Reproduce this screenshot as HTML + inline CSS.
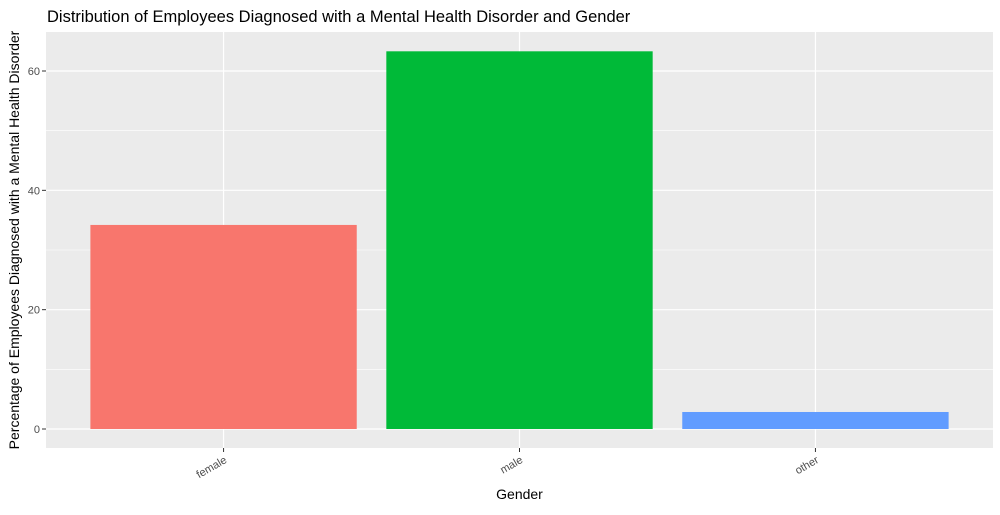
<!DOCTYPE html>
<html><head><meta charset="utf-8"><style>body{margin:0;background:#fff}svg{font-family:"Liberation Sans",sans-serif}</style></head><body>
<svg width="1000" height="510">
<g id="g"></g>
</svg>
<script>
const categories=["female","male","other"];
const values=[34.2,63.3,2.85];
const colors=["#F8766D","#00BA38","#619CFF"];
const yTicks=[0,20,40,60];
const L=46,R=993,T=32,B=448;
const y0=429,yPer=(429-71)/60;
const y=v=>y0-v*yPer;
const band=(R-L)/(categories.length+0.2);
const x=i=>L+band*(i+0.6);
const NS="http://www.w3.org/2000/svg";
const g=document.getElementById('g');
function el(t,a,txt){const e=document.createElementNS(NS,t);for(const k in a)e.setAttribute(k,a[k]);if(txt!=null)e.textContent=txt;g.appendChild(e);return e;}
const bg=el('rect',{x:L,y:T,width:R-L,height:B-T,fill:'#EBEBEB'});


for(let i=0;i<yTicks.length-1;i++){const m=(yTicks[i]+yTicks[i+1])/2;el('line',{x1:L,x2:R,y1:y(m),y2:y(m),stroke:'#fff','stroke-width':0.6});}
const m2=yTicks[yTicks.length-1]+10;if(y(m2)>T)el('line',{x1:L,x2:R,y1:y(m2),y2:y(m2),stroke:'#fff','stroke-width':0.6});
yTicks.forEach(t=>{el('line',{x1:L,x2:R,y1:y(t),y2:y(t),stroke:'#fff','stroke-width':1.2});
el('line',{x1:L-4,x2:L,y1:y(t),y2:y(t),stroke:'#333','stroke-width':1});
const tl=el('text',{x:L-6,y:y(t)+4,'text-anchor':'end','font-size':11,fill:'#4D4D4D'},t);

});
categories.forEach((c,i)=>{el('line',{x1:x(i),x2:x(i),y1:T,y2:B,stroke:'#fff','stroke-width':1.2});});
categories.forEach((c,i)=>{const w=band*0.9;
const b=el('rect',{x:x(i)-w/2,y:y(values[i]),width:w,height:y(0)-y(values[i]),fill:colors[i]});


el('line',{x1:x(i),x2:x(i),y1:B,y2:B+4,stroke:'#333','stroke-width':1});
const tl=el('text',{x:x(i)+4,y:B+14,'text-anchor':'end','font-size':11,fill:'#4D4D4D',transform:`rotate(-30 ${x(i)+4} ${B+14})`},c);

});
const t=el('text',{x:47,y:22,'font-size':16.5,fill:'#000'},"Distribution of Employees Diagnosed with a Mental Health Disorder and Gender");


const xt=el('text',{x:(L+R)/2,y:499,'text-anchor':'middle','font-size':14,fill:'#000'},"Gender");


const yt=el('text',{x:0,y:0,'text-anchor':'middle','font-size':14,fill:'#000',transform:`translate(19 ${(T+B)/2}) rotate(-90)`},"Percentage of Employees Diagnosed with a Mental Health Disorder");


</script>
</body></html>
